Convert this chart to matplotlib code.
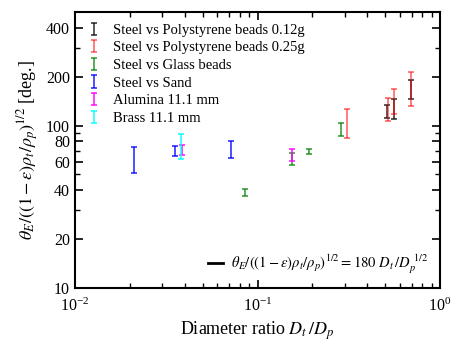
import matplotlib
matplotlib.use("Agg")
import matplotlib.pyplot as plt
from matplotlib.lines import Line2D
from matplotlib.legend_handler import HandlerErrorbar
from matplotlib.ticker import LogLocator, NullFormatter
import numpy as np

plt.rcParams['font.family'] = ['Liberation Serif', 'DejaVu Serif']
plt.rcParams['mathtext.fontset'] = 'stix'

# error bar ranges: diameter ratio, lower, upper
ps12_x = [0.51, 0.56, 0.69]
ps12_lo = [112, 110, 145]
ps12_hi = [133, 146, 192]

ps25_x = [0.308, 0.516, 0.56, 0.69]
ps25_lo = [84, 107, 118, 131]
ps25_hi = [126, 147, 169, 215]

glass_x = [0.0855, 0.155, 0.192, 0.287]
glass_lo = [36.6, 57.0, 67.0, 86.5]
glass_hi = [40.9, 67.3, 71.9, 103]

sand_x = [0.0211, 0.0353, 0.0713]
sand_lo = [51.3, 64.9, 63.4]
sand_hi = [74.0, 74.6, 80.9]

alumina_x = [0.0385, 0.155]
alumina_lo = [65.5, 60.1]
alumina_hi = [76.4, 71.7]

brass_x = [0.0381]
brass_lo = [62.5]
brass_hi = [89.3]

series = [
    ("Steel vs Polystyrene beads 0.12g", ps12_x, ps12_lo, ps12_hi, "black", 0.7),
    ("Steel vs Polystyrene beads 0.25g", ps25_x, ps25_lo, ps25_hi, "red", 0.55),
    ("Steel vs Glass beads", glass_x, glass_lo, glass_hi, "green", 0.7),
    ("Steel vs Sand", sand_x, sand_lo, sand_hi, "blue", 0.75),
    ("Alumina 11.1 mm", alumina_x, alumina_lo, alumina_hi, "magenta", 0.8),
    ("Brass 11.1 mm", brass_x, brass_lo, brass_hi, "cyan", 0.8),
]

fig = plt.figure(figsize=(4.56, 3.47), dpi=100)
ax = fig.add_axes([75/456, 1 - 288/347, 365/456, 276/347])

handles = []
for label, x, lo, hi, c, a in series:
    lo = np.array(lo); hi = np.array(hi)
    mid = np.sqrt(lo * hi)
    h = ax.errorbar(x, mid, yerr=[mid - lo, hi - mid], fmt='none', ecolor=c,
                    alpha=a, capsize=2.2, elinewidth=1.3, capthick=1.3, label=label)
    handles.append(h)

ax.set_xscale('log')
ax.set_yscale('log')
ax.set_xlim(1e-2, 1)
ax.set_ylim(10, 500)

ax.xaxis.set_major_locator(LogLocator(base=10, numticks=5))
ax.xaxis.set_minor_locator(LogLocator(base=10, subs=np.arange(2, 10), numticks=20))
ax.xaxis.set_minor_formatter(NullFormatter())

yt = [10, 20, 40, 60, 80, 100, 200, 400]
ax.set_yticks(yt)
ax.set_yticklabels([str(v) for v in yt])
ax.set_yticks([30, 50, 70, 90, 300], minor=True)
ax.yaxis.set_minor_formatter(NullFormatter())

ax.tick_params(which='both', direction='in', top=True, right=True, labelsize=11.5)
ax.tick_params(which='major', length=6, width=1.2)
ax.tick_params(which='minor', length=3.5, width=1.0)
ax.tick_params(axis='x', which='major', pad=7)
for s in ax.spines.values():
    s.set_linewidth(1.5)

ax.set_xlabel(r'Diameter ratio $D_t\,/D_p$', fontsize=13, labelpad=3)
ax.set_ylabel(r'$\theta_E/((1-\varepsilon)\rho_t/\rho_p)^{1/2}$ [deg.]', fontsize=13)

leg1 = ax.legend(handles=handles, loc='upper left', frameon=False, fontsize=10.5,
                 handlelength=1.0, handletextpad=0.8, labelspacing=0.3,
                 borderaxespad=0.4,
                 handler_map={type(handles[0]): HandlerErrorbar(yerr_size=0.42)})
ax.add_artist(leg1)
fit = Line2D([], [], color='black', lw=2)
ax.legend([fit], [r'$\theta_E/((1-\varepsilon)\rho_t/\rho_p)^{1/2} = 180\ D_t\,/D_p^{\ 1/2}$'],
          loc='lower right', frameon=False, fontsize=10.5, handlelength=1.0,
          handletextpad=0.6, borderaxespad=0.4)

fig.savefig('out.png', dpi=100)
